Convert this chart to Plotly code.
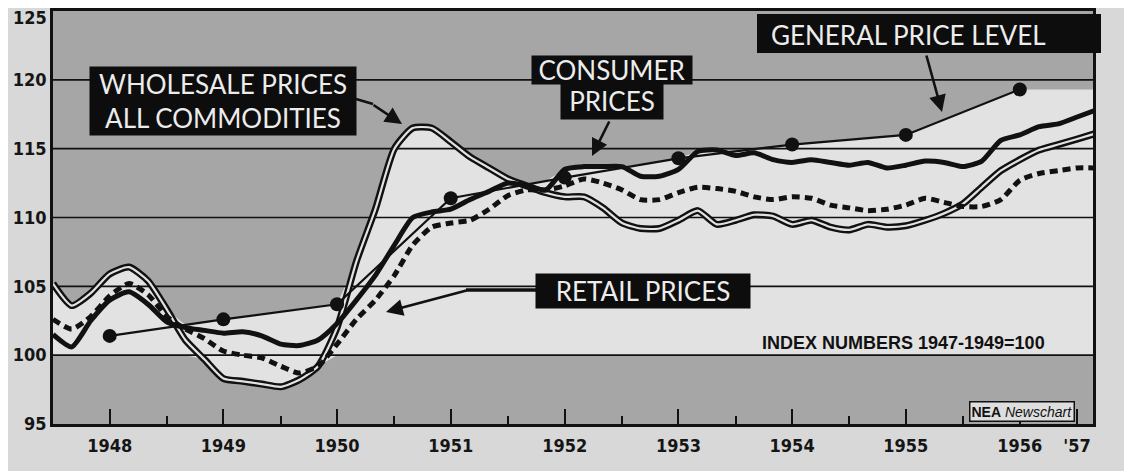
import numpy as np
import pandas as pd
import plotly.graph_objects as go

# ---------------- data (index numbers 1947-1949 = 100) ----------------
months = pd.date_range("1948-01-01", periods=56, freq="2MS")   # bi-monthly readings

wholesale = [105.2, 103.6, 104.5, 105.9, 106.4, 105.4, 103.3, 101.1, 99.7, 98.3,
             98.1, 97.9, 97.7, 98.2, 99.2, 102.0, 106.8, 110.6, 115.0, 116.5,
             116.5, 115.5, 114.4, 113.6, 112.8, 112.3, 111.8, 111.5, 111.5, 110.7,
             109.6, 109.2, 109.2, 109.8, 110.5, 109.5, 109.8, 110.2, 110.1, 109.5,
             109.8, 109.3, 109.1, 109.5, 109.3, 109.4, 109.8, 110.3, 111.0, 112.2,
             113.4, 114.2, 114.9, 115.3, 115.7, 116.1]

consumer = [101.5, 100.6, 102.5, 104.0, 104.6, 103.7, 102.4, 102.0, 101.8, 101.6,
            101.7, 101.4, 100.8, 100.7, 101.1, 102.3, 104.0, 105.8, 108.0, 110.0,
            110.4, 110.6, 111.3, 111.9, 112.5, 112.3, 112.0, 113.5, 113.7, 113.7,
            113.7, 113.0, 113.0, 113.5, 114.8, 114.9, 114.5, 114.7, 114.2, 114.0,
            114.2, 114.0, 113.8, 114.0, 113.6, 113.8, 114.1, 114.0, 113.7, 114.1,
            115.6, 116.0, 116.6, 116.8, 117.3, 117.8]

retail = [102.6, 101.9, 102.8, 104.3, 105.2, 104.4, 102.8, 101.9, 101.2, 100.3,
          100.0, 99.8, 99.2, 98.7, 99.2, 100.8, 102.6, 104.0, 105.8, 108.0,
          109.3, 109.6, 109.8, 110.6, 111.6, 112.0, 112.0, 112.3, 112.8, 112.5,
          112.0, 111.3, 111.3, 111.8, 112.2, 112.1, 111.9, 111.5, 111.3, 111.5,
          111.4, 110.9, 110.7, 110.5, 110.6, 110.9, 111.4, 111.1, 110.8, 110.8,
          111.3, 112.7, 113.2, 113.4, 113.6, 113.6]

general_dates = pd.to_datetime(["1948-07-01", "1949-07-01", "1950-07-01", "1951-07-01",
                                "1952-07-01", "1953-07-01", "1954-07-01", "1955-07-01",
                                "1956-07-01"])
general = [101.4, 102.6, 103.7, 111.4, 112.9, 114.3, 115.3, 116.0, 119.3]

year_ticks = ["1948-07-01", "1949-07-01", "1950-07-01", "1951-07-01", "1952-07-01",
              "1953-07-01", "1954-07-01", "1955-07-01", "1956-07-01", "1957-01-01"]
year_labels = ["1948", "1949", "1950", "1951", "1952", "1953", "1954", "1955", "1956", "'57"]
jan_ticks = ["1949-01-01", "1950-01-01", "1951-01-01", "1952-01-01",
             "1953-01-01", "1954-01-01", "1955-01-01", "1956-01-01"]
y_ticks = [95, 100, 105, 110, 115, 120]
Y_TOP = 125
grid_levels = [100, 105, 110, 115, 120]
BASE = 100

X0, X1 = "1948-01-01", "1957-02-21"

# ---------------- light band between the curves ----------------
def mnum(d):
    return (d.year - 1948) * 12 + (d.month - 1) + (d.day - 1) / 30.0

m = np.array([mnum(d) for d in months])
gm = np.array([mnum(d) for d in general_dates])
gen_i = np.interp(m, gm, general)
W, C, R = np.array(wholesale), np.array(consumer), np.array(retail)
upper = np.max([W, C, R, gen_i], axis=0)
lower = np.min([W, C, R, np.full_like(W, BASE)], axis=0)

PAPER = "#d8d8d8"
GRAY = "#a6a6a6"
LIGHT = "#e2e2e2"
INK = "#111111"

fig = go.Figure()
fig.add_trace(go.Scatter(x=months, y=lower, mode="lines", line=dict(width=0, color=LIGHT),
                         hoverinfo="skip", showlegend=False))
fig.add_trace(go.Scatter(x=months, y=upper, mode="lines", line=dict(width=0, color=LIGHT),
                         fill="tonexty", fillcolor=LIGHT, hoverinfo="skip", showlegend=False))

# grid lines (drawn above the light band)
for g in grid_levels:
    fig.add_trace(go.Scatter(x=[X0, X1], y=[g, g], mode="lines",
                             line=dict(color=INK, width=1.6), hoverinfo="skip", showlegend=False))

SPL = dict(shape="spline", smoothing=0.6)
# wholesale: double (outlined) line
fig.add_trace(go.Scatter(x=months, y=wholesale, mode="lines", line=dict(color=INK, width=7, **SPL),
                         name="Wholesale prices", showlegend=False))
fig.add_trace(go.Scatter(x=months, y=wholesale, mode="lines", line=dict(color=LIGHT, width=2.2, **SPL),
                         hoverinfo="skip", showlegend=False))
# retail: heavy dashes
fig.add_trace(go.Scatter(x=months, y=retail, mode="lines",
                         line=dict(color=INK, width=5, dash="8px,5px", **SPL),
                         name="Retail prices", showlegend=False))
# consumer: heavy solid
fig.add_trace(go.Scatter(x=months, y=consumer, mode="lines",
                         line=dict(color=INK, width=5, **SPL),
                         name="Consumer prices", showlegend=False))
# general price level: thin line with dots
fig.add_trace(go.Scatter(x=general_dates, y=general, mode="lines+markers",
                         line=dict(color=INK, width=2.2), marker=dict(size=14, color=INK),
                         name="General price level", showlegend=False))

# ---------------- labels ----------------
# the page body adds an 8px offset; margins below are set so the plot area
# sits at x 53..1093, y 11..424 of the window
OFF = 8
PL, PT, PW, PH = 53, 11, 1040, 413

def px_x(px):
    return (px - PL) / PW

def px_y(py):
    return (PT + PH - py) / PH

LABEL_FONT = dict(family="Lato, Liberation Sans, sans-serif", size=26, color="#ececec")

def box(text, cx, cy, w, h, align="center", size=26):
    fig.add_annotation(xref="paper", yref="paper", x=px_x(cx), y=px_y(cy), text=text,
                       showarrow=False, bgcolor="#0d0d0d", width=w, height=h, align=align,
                       xanchor="center", yanchor="middle", borderpad=0,
                       font=dict(LABEL_FONT, size=size))

box("WHOLESALE PRICES<br>ALL COMMODITIES", 223, 101, 266, 68)
box("CONSUMER", 612, 70, 160, 28)
box("PRICES", 612, 101, 102, 36)
box("RETAIL PRICES", 643, 291, 214, 34)

fig.add_shape(type="rect", xref="paper", yref="paper",
              x0=px_x(757), x1=px_x(1101), y0=px_y(53), y1=px_y(14),
              fillcolor="#0d0d0d", line=dict(width=0))
fig.add_annotation(xref="paper", yref="paper", x=px_x(908), y=px_y(35),
                   text="GENERAL PRICE LEVEL", showarrow=False,
                   xanchor="center", yanchor="middle", font=LABEL_FONT)

def arrow(hx, hy, tx, ty):
    fig.add_annotation(xref="paper", yref="paper", x=px_x(hx), y=px_y(hy), text="",
                       showarrow=True, ax=tx - hx, ay=ty - hy, arrowhead=2, arrowsize=1.3,
                       arrowwidth=2.6, arrowcolor=INK, standoff=0, startstandoff=0)

arrow(402, 124, 372, 104)
arrow(592, 156, 610, 120)
arrow(942, 112, 926, 54)
arrow(386, 312, 468, 290)

fig.add_shape(type="line", xref="paper", yref="paper",
              x0=px_x(356), y0=px_y(99), x1=px_x(373), y1=px_y(104),
              line=dict(color=INK, width=2.6))
fig.add_shape(type="line", xref="paper", yref="paper",
              x0=px_x(466), y0=px_y(290), x1=px_x(537), y1=px_y(290),
              line=dict(color=INK, width=3.5))

fig.add_annotation(xref="paper", yref="paper", x=px_x(903), y=px_y(343),
                   text="INDEX NUMBERS 1947-1949=100", showarrow=False,
                   font=dict(family="Liberation Sans, Arial, sans-serif", size=18, color=INK, weight="bold"),
                   xanchor="center", yanchor="middle")

fig.add_annotation(xref="paper", yref="paper", x=px_x(1022), y=px_y(411),
                   text="<b>NEA</b> <i>Newschart</i>", showarrow=False,
                   bgcolor="#dedede", bordercolor=INK, borderwidth=1.5, borderpad=1,
                   font=dict(family="Liberation Sans, Arial, sans-serif", size=14, color=INK),
                   xanchor="center", yanchor="middle")

TICK_FONT = dict(family="Liberation Sans Narrow, DejaVu Sans Condensed, Liberation Sans, sans-serif",
                 size=18, color="#151515", weight="bold")

# top value label sits just under the frame, as in the original
fig.add_annotation(xref="paper", yref="paper", x=0, y=px_y(18), xshift=-4,
                   text=str(Y_TOP), showarrow=False, xanchor="right", yanchor="middle",
                   font=TICK_FONT)

fig.update_layout(
    width=1132 - OFF, height=471 - OFF,
    margin=dict(l=PL - OFF, r=1132 - PL - PW, t=PT - OFF, b=471 - PT - PH),
    paper_bgcolor=PAPER, plot_bgcolor=GRAY,
    showlegend=False,
    xaxis=dict(type="date", range=[X0, X1], showgrid=False, zeroline=False, automargin=False,
               tickmode="array", tickvals=year_ticks, ticktext=year_labels,
               ticks="inside", ticklen=15, tickwidth=2.2, tickcolor=INK,
               minor=dict(tickmode="array", tickvals=jan_ticks,
                          ticks="inside", ticklen=8, tickwidth=2.2, tickcolor=INK),
               showline=True, linecolor=INK, linewidth=2.5, mirror=True,
               tickfont=TICK_FONT, ticklabelstandoff=4),
    yaxis=dict(range=[95, Y_TOP], showgrid=False, zeroline=False, automargin=False,
               tickmode="array", tickvals=y_ticks, ticks="",
               showline=True, linecolor=INK, linewidth=2.5, mirror=True,
               tickfont=TICK_FONT),
)

fig.write_html("out.html")
